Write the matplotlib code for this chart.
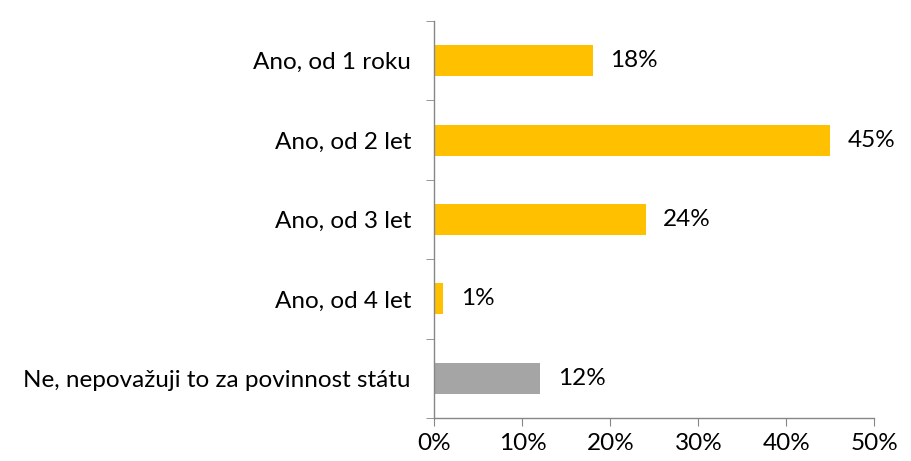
import matplotlib.pyplot as plt
import numpy as np

plt.rcParams['font.family'] = ['Lato', 'DejaVu Sans']

categories = ["Ano, od 1 roku", "Ano, od 2 let", "Ano, od 3 let", "Ano, od 4 let",
              "Ne, nepovažuji to za povinnost státu"]
values = [18, 45, 24, 1, 12]
colors = ["#FFC000", "#FFC000", "#FFC000", "#FFC000", "#A5A5A5"]
xticks = [0, 10, 20, 30, 40, 50]

fs = 17.5

fig = plt.figure(figsize=(9.12, 4.61), dpi=100)
ax = fig.add_axes([434.5 / 912, 1 - 418 / 461, (874.5 - 434.5) / 912, (418 - 21) / 461])

y = np.arange(len(categories))
ax.barh(y, values, height=0.39, color=colors)
for yi, v in zip(y, values):
    ax.text(v + 2.0, yi, "{}%".format(v), va="center", ha="left", fontsize=fs, color="black")

ax.set_xlim(0, 50)
ax.set_ylim(len(categories) - 0.5, -0.5)
ax.set_xticks(xticks)
ax.set_xticklabels(["{}%".format(t) for t in xticks], fontsize=fs)
ax.set_yticks(y)
ax.set_yticklabels(categories, fontsize=fs)
ax.set_yticks(np.arange(len(categories) + 1) - 0.5, minor=True)

ax.tick_params(axis="y", which="major", length=0, pad=17)
ax.tick_params(axis="y", which="minor", length=6, color="#868686", direction="out")
ax.tick_params(axis="x", length=6, color="#868686", direction="out", pad=5)

for s in ["top", "right"]:
    ax.spines[s].set_visible(False)
for s in ["left", "bottom"]:
    ax.spines[s].set_color("#868686")
    ax.spines[s].set_linewidth(1)

plt.savefig("out.png", dpi=100)
